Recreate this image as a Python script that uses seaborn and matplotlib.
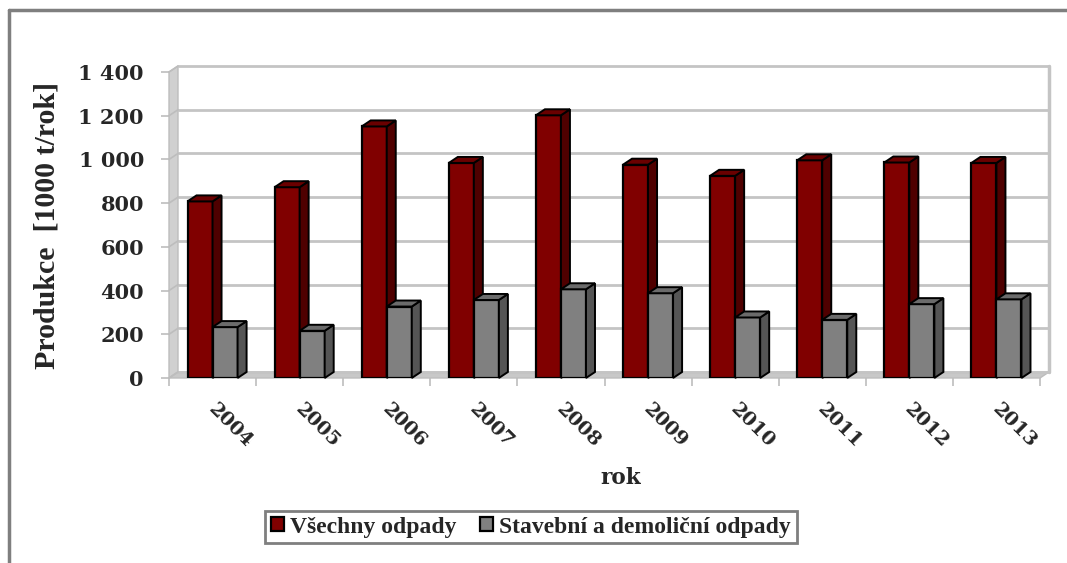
import pandas as pd
import seaborn as sns
import matplotlib.pyplot as plt
from matplotlib.patches import Polygon
from matplotlib.lines import Line2D
from matplotlib.transforms import ScaledTranslation

years = ['2004', '2005', '2006', '2007', '2008', '2009', '2010', '2011', '2012', '2013']
vsechny = [808, 873, 1151, 984, 1202, 976, 925, 996, 986, 984]
stavebni = [233, 216, 327, 357, 406, 388, 277, 266, 338, 360]
series_names = ['Všechny odpady', 'Stavební a demoliční odpady']
y_ticks = [0, 200, 400, 600, 800, 1000, 1200, 1400]
y_tick_labels = ['0', '200', '400', '600', '800', '1 000', '1 200', '1 400']

df = pd.DataFrame({
    'rok': years * 2,
    'produkce': vsechny + stavebni,
    'typ': [series_names[0]] * len(years) + [series_names[1]] * len(years),
})

sns.set_style('white')
plt.rcParams['font.family'] = ['DejaVu Serif']
plt.rcParams['font.weight'] = 'bold'
serif_tnr = ['Liberation Serif', 'DejaVu Serif']

fig = plt.figure(figsize=(10.67, 5.63), dpi=100)
ax = fig.add_axes([169 / 1067, 185 / 563, 871 / 1067, 306 / 563])

front = ['#800000', '#808080']
side = ['#4f0000', '#555555']
top = ['#6a0000', '#6b6b6b']

sns.barplot(data=df, x='rok', y='produkce', hue='typ', palette=front, saturation=1,
            width=0.575, edgecolor='black', linewidth=1.6, ax=ax)
ax.set_xlim(-0.5, 9.5)
ax.set_ylim(0, 1400)

# depth of the fake 3d effect, pixels -> data units
dx = 9 / (871 / 10)
dy = 6 / (306 / 1400)

# back wall, left wall, floor
wall_c = '#c4c4c4'
ax.add_patch(Polygon([(-0.5, 0), (-0.5 + dx, dy), (-0.5 + dx, 1400 + dy), (-0.5, 1400)],
                     closed=True, facecolor='#d0d0d0', edgecolor='#bdbdbd', lw=1, zorder=0.5, clip_on=False))
ax.add_patch(Polygon([(-0.5, 0), (9.5, 0), (9.5 + dx, dy), (-0.5 + dx, dy)],
                     closed=True, facecolor='#c8c8c8', edgecolor='#bdbdbd', lw=1, zorder=0.5, clip_on=False))
for v in y_ticks:
    ax.plot([-0.5 + dx, 9.5 + dx], [v + dy, v + dy], color=wall_c, lw=2, zorder=0.6, clip_on=False)
    ax.plot([-0.5, -0.5 + dx], [v, v + dy], color='#bdbdbd', lw=1.2, zorder=0.7, clip_on=False)
ax.plot([9.5 + dx, 9.5 + dx], [dy, 1400 + dy], color=wall_c, lw=2.5, zorder=0.6, clip_on=False)

# side and top faces of every bar
for k, cont in enumerate(ax.containers):
    for bar in cont:
        bar.set_zorder(2 + k)
        x0 = bar.get_x()
        w = bar.get_width()
        h = bar.get_height()
        x1 = x0 + w
        ax.add_patch(Polygon([(x1, 0), (x1, h), (x1 + dx, h + dy), (x1 + dx, dy)], closed=True,
                             facecolor=side[k], edgecolor='black', lw=1.4, zorder=2.5 + k, clip_on=False))
        ax.add_patch(Polygon([(x0, h), (x1, h), (x1 + dx, h + dy), (x0 + dx, h + dy)], closed=True,
                             facecolor=top[k], edgecolor='black', lw=1.4, zorder=2.5 + k, clip_on=False))

for s in ax.spines.values():
    s.set_visible(False)

ax.set_yticks(y_ticks, y_tick_labels)
ax.tick_params(axis='y', length=6, width=1.2, color='#bdbdbd', pad=12, labelsize=15, left=True)
ax.set_xticks(range(len(years)), years)
ax.set_xticks([i - 0.5 for i in range(len(years) + 1)], minor=True)
ax.tick_params(axis='x', which='major', length=0, pad=16, labelsize=14)
ax.tick_params(axis='x', which='minor', length=6, width=1.2, color='#bdbdbd', bottom=True)
for lab in ax.get_xticklabels():
    lab.set_rotation(-45)
    lab.set_ha('left')
    lab.set_va('top')
    lab.set_transform(lab.get_transform() + ScaledTranslation(-0.08, 0, fig.dpi_scale_trans))

ax.set_xlabel('')
ax.set_ylabel('Produkce  [1000 t/rok]', fontsize=21.5, fontweight='bold', family=serif_tnr)
ax.yaxis.set_label_coords(-0.125, 0.5)
fig.text(621 / 1067, 1 - 478 / 563, 'rok', ha='center', va='center', fontsize=15.5, fontweight='bold')

handles, labels = ax.get_legend_handles_labels()
ax.get_legend().remove()
leg = fig.legend(handles, labels, loc='center', bbox_to_anchor=(531 / 1067, 1 - 527 / 563), ncol=2,
                 prop={'family': serif_tnr, 'size': 17, 'weight': 'bold'},
                 frameon=True, fancybox=False, edgecolor='#7f7f7f', framealpha=1,
                 handlelength=0.55, handleheight=0.55, handletextpad=0.25, columnspacing=1.0,
                 borderpad=0.25)
leg.get_frame().set_linewidth(2)

# outer chart border (top and left edges visible)
fig.add_artist(Line2D([9 / 1067, 1], [1 - 10 / 563, 1 - 10 / 563], color='#7f7f7f', lw=2.5, transform=fig.transFigure))
fig.add_artist(Line2D([9 / 1067, 9 / 1067], [0, 1 - 10 / 563], color='#7f7f7f', lw=2.5, transform=fig.transFigure))

fig.savefig('out.png', dpi=100, facecolor='white')
